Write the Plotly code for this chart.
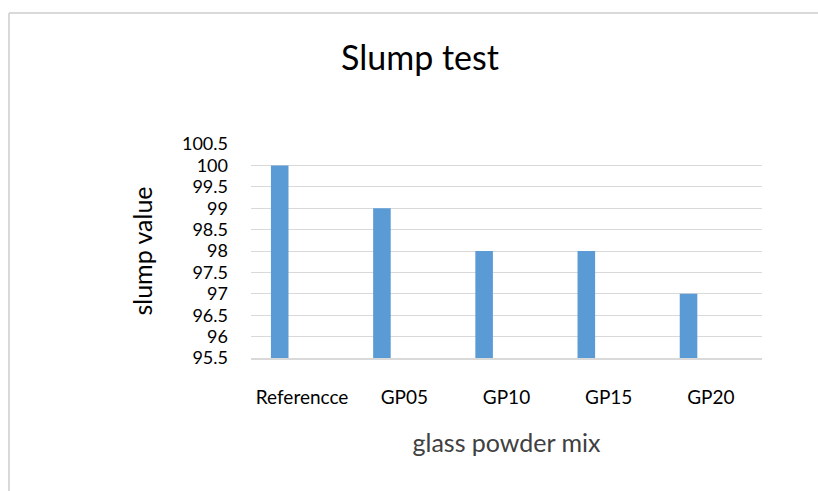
import plotly.graph_objects as go

categories = ["Referencce", "GP05", "GP10", "GP15", "GP20"]
slump_values = [100, 99, 98, 98, 97]
y_ticks = [95.5, 96, 96.5, 97, 97.5, 98, 98.5, 99, 99.5, 100, 100.5]

W, H = 818, 491
L, R, T, B = 251, 56, 144, 133
pw, ph = W - L - R, H - T - B

def px_x(p):
    return (p - L) / pw

def px_y(p):
    return (H - B - p) / ph

FONT = "Lato"
FRAME = "#d9d9d9"

fig = go.Figure()
fig.add_trace(go.Bar(
    x=categories, y=slump_values,
    marker=dict(color="#5b9bd5", line=dict(width=0)),
    width=0.172, offset=-0.305,
    showlegend=False,
))

fig.update_layout(
    width=W, height=H,
    margin=dict(l=L, r=R, t=T, b=B),
    paper_bgcolor="white", plot_bgcolor="white",
    font=dict(family=FONT, color="#000000"),
    title=dict(text="Slump test", x=px_x(420), xref="paper", xanchor="center",
               y=1 - 58 / H, yanchor="middle",
               font=dict(size=34, family=FONT, color="#000000")),
    xaxis=dict(
        showgrid=False, showline=True, linecolor="#d9d9d9", linewidth=1.5,
        ticks="", tickfont=dict(size=19, color="#000000"),
        ticklabelstandoff=21,
        title=dict(text="glass powder mix", font=dict(size=25, color="#404040"), standoff=28),
    ),
    yaxis=dict(
        range=[95.5, 100.5], tickvals=y_ticks,
        ticktext=[f"{v:g}" for v in y_ticks],
        showgrid=True, gridcolor="#d9d9d9", gridwidth=1.2,
        zeroline=False, showline=False, ticks="",
        tickfont=dict(size=18, color="#000000"),
        ticklabelstandoff=22,
        title=dict(text="slump value", font=dict(size=25, color="#000000"), standoff=22),
    ),
    shapes=[
        dict(type="line", xref="paper", yref="paper",
             x0=px_x(9), x1=px_x(818), y0=px_y(13), y1=px_y(13),
             line=dict(color=FRAME, width=2), layer="below"),
        dict(type="line", xref="paper", yref="paper",
             x0=px_x(9), x1=px_x(9), y0=px_y(491), y1=px_y(13),
             line=dict(color=FRAME, width=2), layer="below"),
    ],
)

fig.write_html(
    "out.html",
    config={"displayModeBar": False},
    post_script="document.documentElement.style.overflow='hidden';"
                "document.body.style.overflow='hidden';document.body.style.margin='0';",
)
